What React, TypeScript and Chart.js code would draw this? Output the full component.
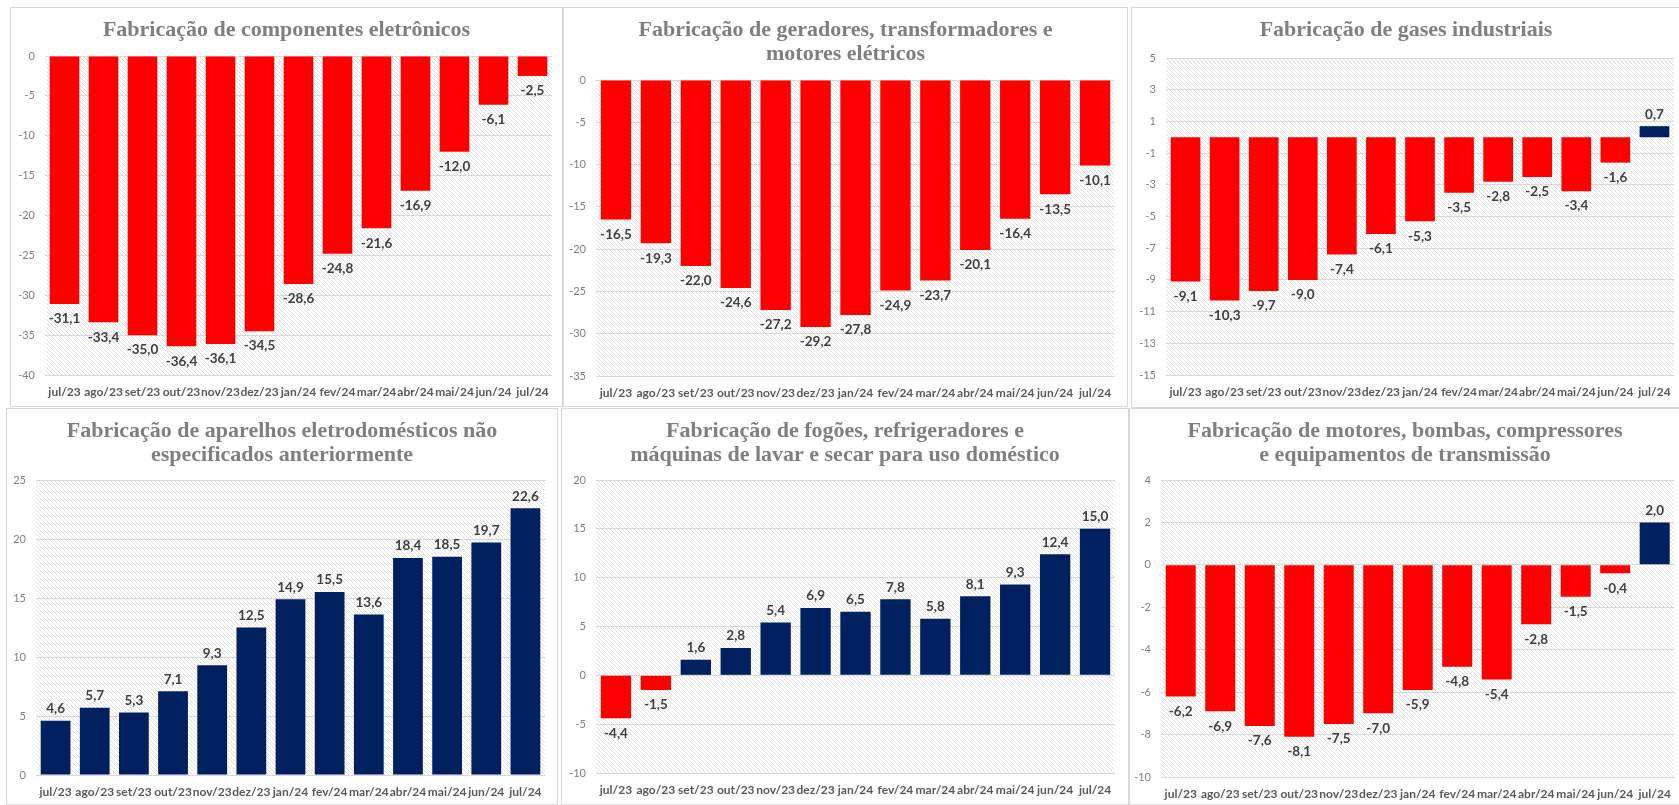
import React, { useEffect, useRef } from "react";
import { Chart, registerables } from "chart.js";
Chart.register(...registerables);

const months = ["jul/23", "ago/23", "set/23", "out/23", "nov/23", "dez/23", "jan/24", "fev/24", "mar/24", "abr/24", "mai/24", "jun/24", "jul/24"];

const componentesEletronicos = [-31.1, -33.4, -35.0, -36.4, -36.1, -34.5, -28.6, -24.8, -21.6, -16.9, -12.0, -6.1, -2.5];
const geradoresTransformadores = [-16.5, -19.3, -22.0, -24.6, -27.2, -29.2, -27.8, -24.9, -23.7, -20.1, -16.4, -13.5, -10.1];
const gasesIndustriais = [-9.1, -10.3, -9.7, -9.0, -7.4, -6.1, -5.3, -3.5, -2.8, -2.5, -3.4, -1.6, 0.7];
const eletrodomesticosNaoEspecificados = [4.6, 5.7, 5.3, 7.1, 9.3, 12.5, 14.9, 15.5, 13.6, 18.4, 18.5, 19.7, 22.6];
const fogoesRefrigeradores = [-4.4, -1.5, 1.6, 2.8, 5.4, 6.9, 6.5, 7.8, 5.8, 8.1, 9.3, 12.4, 15.0];
const motoresBombas = [-6.2, -6.9, -7.6, -8.1, -7.5, -7.0, -5.9, -4.8, -5.4, -2.8, -1.5, -0.4, 2.0];

const ticksP1 = [0, -5, -10, -15, -20, -25, -30, -35, -40];
const ticksP2 = [0, -5, -10, -15, -20, -25, -30, -35];
const ticksP3 = [5, 3, 1, -1, -3, -5, -7, -9, -11, -13, -15];
const ticksP4 = [0, 5, 10, 15, 20, 25];
const ticksP5 = [-10, -5, 0, 5, 10, 15, 20];
const ticksP6 = [-10, -8, -6, -4, -2, 0, 2, 4];

const titleP1 = ["Fabricação de componentes eletrônicos"];
const titleP2 = ["Fabricação de geradores, transformadores e", "motores elétricos"];
const titleP3 = ["Fabricação de gases industriais"];
const titleP4 = ["Fabricação de aparelhos eletrodomésticos não", "especificados anteriormente"];
const titleP5 = ["Fabricação de fogões, refrigeradores e", "máquinas de lavar e secar para uso doméstico"];
const titleP6 = ["Fabricação de motores, bombas, compressores", "e equipamentos de transmissão"];

const RED = "#FF0000";
const NAVY = "#002060";
const SANS = "Lato";
const SERIF = "Liberation Serif";

type Panel = {
  title: string[];
  values: number[];
  ticks: number[];
  box: { x: number; y: number; w: number; h: number };
  plot: { l: number; t: number; r: number; b: number };
};

const panels: Panel[] = [
  { title: titleP1, values: componentesEletronicos, ticks: ticksP1, box: { x: 10, y: 7, w: 553, h: 400 }, plot: { l: 45, t: 56, r: 552, b: 375 } },
  { title: titleP2, values: geradoresTransformadores, ticks: ticksP2, box: { x: 563, y: 7, w: 565, h: 400 }, plot: { l: 596, t: 80, r: 1115, b: 376 } },
  { title: titleP3, values: gasesIndustriais, ticks: ticksP3, box: { x: 1131, y: 7, w: 550, h: 401 }, plot: { l: 1166, t: 58, r: 1674, b: 375 } },
  { title: titleP4, values: eletrodomesticosNaoEspecificados, ticks: ticksP4, box: { x: 6, y: 408, w: 552, h: 397 }, plot: { l: 36, t: 480, r: 545, b: 775 } },
  { title: titleP5, values: fogoesRefrigeradores, ticks: ticksP5, box: { x: 561, y: 408, w: 568, h: 397 }, plot: { l: 596, t: 480, r: 1115, b: 773 } },
  { title: titleP6, values: motoresBombas, ticks: ticksP6, box: { x: 1129, y: 408, w: 552, h: 397 }, plot: { l: 1161, t: 480, r: 1677, b: 777 } },
];

const fmt = (v: number) => v.toFixed(1).replace(".", ",");

function makePattern(ctx: CanvasRenderingContext2D) {
  const c = document.createElement("canvas");
  c.width = 4;
  c.height = 4;
  const p = c.getContext("2d")!;
  p.fillStyle = "#ffffff";
  p.fillRect(0, 0, 4, 4);
  p.fillStyle = "#e2e2e2";
  for (let i = 0; i < 4; i++) p.fillRect(i, i, 1, 1);
  return ctx.createPattern(c, "repeat");
}

function PanelChart({ panel }: { panel: Panel }) {
  const ref = useRef<HTMLCanvasElement | null>(null);
  useEffect(() => {
    const canvas = ref.current!;
    const { box, plot } = panel;
    const padTop = plot.t - box.y;
    const padRight = box.x + box.w - plot.r;
    const yWidth = plot.l - box.x;
    const xHeight = box.y + box.h - plot.b;
    const tickVals = panel.ticks;
    const minV = Math.min(...tickVals);
    const maxV = Math.max(...tickVals);

    const bgPlugin = {
      id: "hatchBg",
      beforeDraw(chart: any) {
        const { ctx, chartArea } = chart;
        const pat = makePattern(ctx);
        ctx.save();
        ctx.fillStyle = pat || "#f4f4f4";
        ctx.fillRect(chartArea.left, chartArea.top, chartArea.right - chartArea.left, chartArea.bottom - chartArea.top);
        ctx.restore();
      },
    };

    const titlePlugin = {
      id: "panelTitle",
      afterDraw(chart: any) {
        const { ctx } = chart;
        ctx.save();
        ctx.font = `bold 22px "${SERIF}"`;
        ctx.fillStyle = "#7f7f7f";
        ctx.textAlign = "center";
        ctx.textBaseline = "middle";
        panel.title.forEach((line, i) => {
          ctx.fillText(line, box.w / 2, 23 + i * 24.5);
        });
        ctx.restore();
      },
    };

    const labelPlugin = {
      id: "valueLabels",
      afterDatasetsDraw(chart: any) {
        const { ctx } = chart;
        const meta = chart.getDatasetMeta(0);
        ctx.save();
        ctx.font = `bold 13.5px "${SANS}"`;
        ctx.fillStyle = "#404040";
        ctx.textAlign = "center";
        ctx.textBaseline = "middle";
        meta.data.forEach((el: any, i: number) => {
          const v = panel.values[i];
          const y = v < 0 ? el.y + 15 : el.y - 12;
          ctx.fillText(fmt(v), el.x, y);
        });
        ctx.restore();
      },
    };

    const chart = new Chart(canvas, {
      type: "bar",
      data: {
        labels: months,
        datasets: [
          {
            data: panel.values,
            backgroundColor: panel.values.map((v) => (v < 0 ? RED : NAVY)),
            categoryPercentage: 1,
            barPercentage: 0.76,
            borderWidth: 0,
          },
        ],
      },
      options: {
        responsive: false,
        animation: false,
        layout: { padding: { top: padTop, right: padRight, left: 0, bottom: 0 } },
        plugins: { legend: { display: false }, tooltip: { enabled: false }, title: { display: false } },
        scales: {
          x: {
            grid: { display: false, drawTicks: false },
            border: { display: false },
            ticks: {
              font: { family: SANS, size: 12, weight: "bold" },
              color: "#595959",
              maxRotation: 0,
              minRotation: 0,
              autoSkip: false,
              padding: 10,
            },
            afterFit: (s: any) => {
              s.height = xHeight;
            },
          },
          y: {
            min: minV,
            max: maxV,
            afterBuildTicks: (s: any) => {
              s.ticks = tickVals.map((v) => ({ value: v }));
            },
            grid: { color: "#d9d9d9", drawTicks: false },
            border: { display: false },
            ticks: {
              font: { family: SANS, size: 11 },
              color: "#7f7f7f",
              padding: 10,
              callback: (v: any) => String(v),
            },
            afterFit: (s: any) => {
              s.width = yWidth;
            },
          },
        },
      } as any,
      plugins: [bgPlugin, titlePlugin, labelPlugin],
    });
    return () => chart.destroy();
  }, [panel]);

  const { box } = panel;
  return (
    <div
      style={{
        position: "absolute",
        left: box.x,
        top: box.y,
        width: box.w,
        height: box.h,
        boxSizing: "border-box",
        border: "1px solid #d9d9d9",
        background: "#ffffff",
      }}
    >
      <canvas
        ref={ref}
        width={box.w}
        height={box.h}
        style={{ position: "absolute", left: -1, top: -1, width: box.w, height: box.h }}
      />
    </div>
  );
}

export default function App() {
  useEffect(() => {
    document.body.style.margin = "0";
    document.body.style.overflow = "hidden";
  }, []);
  return (
    <div style={{ position: "absolute", left: 0, top: 0, width: 1679, height: 805, background: "#ffffff", overflow: "hidden" }}>
      {panels.map((p, i) => (
        <PanelChart key={i} panel={p} />
      ))}
    </div>
  );
}
